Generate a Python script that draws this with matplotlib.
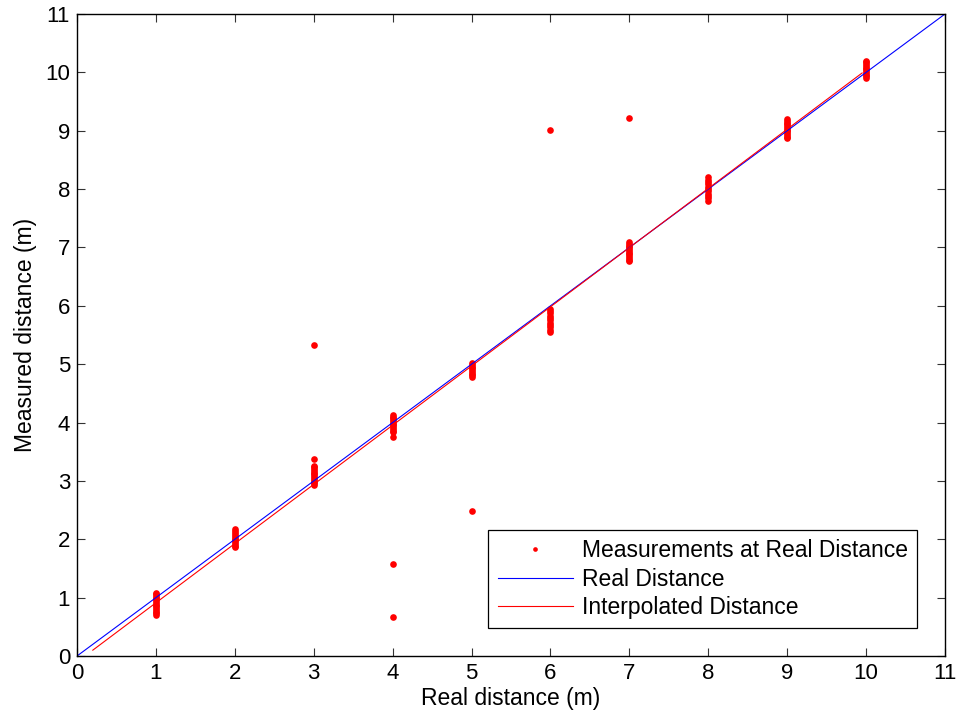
import numpy as np
import matplotlib
matplotlib.use('Agg')
import matplotlib.pyplot as plt

plt.rcParams['font.family'] = ['Liberation Sans', 'DejaVu Sans']

meas_1 = [0.70, 0.73, 0.76, 0.79, 0.82, 0.85, 0.88, 0.91, 0.94, 0.97, 1.00, 1.03, 1.06, 1.08]
meas_2 = [1.86, 1.89, 1.92, 1.95, 1.98, 2.01, 2.04, 2.07, 2.10, 2.14, 2.18]
meas_3 = [2.93, 2.96, 2.99, 3.02, 3.05, 3.08, 3.11, 3.14, 3.17, 3.20, 3.23, 3.26, 3.37, 5.33]
meas_4 = [0.67, 1.57, 3.75, 3.83, 3.86, 3.89, 3.92, 3.95, 3.98, 4.01, 4.04, 4.07, 4.10, 4.13]
meas_5 = [2.48, 4.78, 4.81, 4.84, 4.87, 4.90, 4.93, 4.96, 4.99, 5.02]
meas_6 = [5.55, 5.59, 5.63, 5.67, 5.71, 5.75, 5.79, 5.83, 5.87, 5.91, 5.95, 9.02]
meas_7 = [6.76, 6.79, 6.82, 6.85, 6.88, 6.91, 6.94, 6.97, 7.00, 7.03, 7.06, 7.09, 9.22]
meas_8 = [7.80, 7.84, 7.88, 7.92, 7.96, 8.00, 8.04, 8.08, 8.12, 8.16, 8.20]
meas_9 = [8.87, 8.90, 8.93, 8.96, 8.99, 9.02, 9.05, 9.08, 9.11, 9.14, 9.17, 9.20]
meas_10 = [9.90, 9.93, 9.96, 9.99, 10.02, 10.05, 10.08, 10.11, 10.14, 10.17, 10.20]
measurements = [meas_1, meas_2, meas_3, meas_4, meas_5, meas_6, meas_7, meas_8, meas_9, meas_10]
real_dist = [1, 2, 3, 4, 5, 6, 7, 8, 9, 10]

real_line_x = [0, 11]
real_line_y = [0, 11]
interp_x = [0.2, 9.95]
interp_y = [0.10, 9.99]

ticks = list(range(0, 12))

fig = plt.figure(figsize=(9.58, 7.16), dpi=100)
ax = fig.add_axes([0.0804, 0.0838, 0.906, 0.8966])

xs = np.concatenate([[d] * len(m) for d, m in zip(real_dist, measurements)])
ys = np.concatenate(measurements)
ax.plot(xs, ys, 'o', color='red', markersize=4.8, markeredgewidth=0,
        linestyle='none', label='Measurements at Real Distance')
ax.plot(real_line_x, real_line_y, color='blue', linewidth=0.8, label='Real Distance')
ax.plot(interp_x, interp_y, color='red', linewidth=0.8, label='Interpolated Distance')

ax.set_xlim(0, 11)
ax.set_ylim(0, 11)
ax.set_xticks(ticks)
ax.set_yticks(ticks)
ax.tick_params(direction='in', length=6, width=0.8, top=True, right=True,
               labelsize=16, color='#333333', pad=5)
for s in ax.spines.values():
    s.set_linewidth(1.0)
ax.set_xlabel('Real distance (m)', fontsize=16.5, labelpad=2)
ax.set_ylabel('Measured distance (m)', fontsize=16.5, labelpad=6)

leg = ax.legend(loc='lower right', fontsize=16.5, fancybox=False, edgecolor='black',
                framealpha=1, handlelength=3.3, handletextpad=0.4, borderaxespad=1.2,
                labelspacing=0.25, borderpad=0.4, markerscale=0.7)
leg.get_frame().set_linewidth(0.9)

fig.savefig('out.png', dpi=100)
